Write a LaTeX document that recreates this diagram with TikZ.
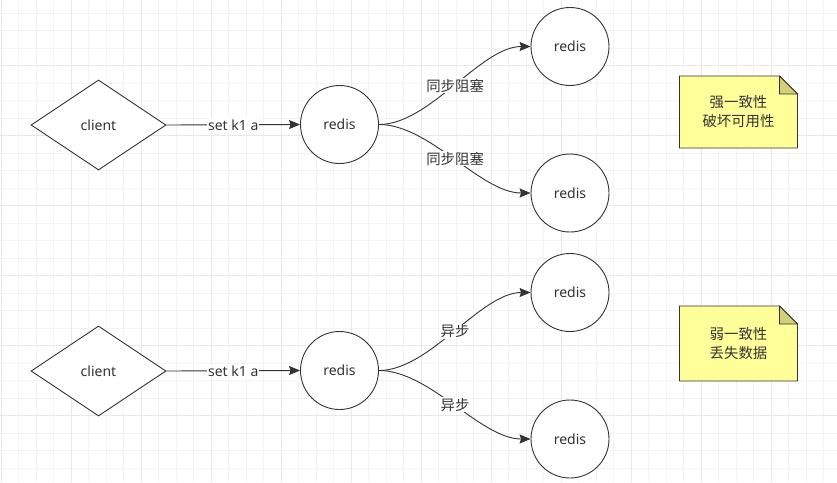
\documentclass[tikz,border=0pt]{standalone}
\usepackage{fontspec}
\setmainfont{Noto Sans}
\newfontfamily\cjk{Noto Sans CJK SC}
\usetikzlibrary{arrows.meta,shapes.geometric}
\definecolor{dioLine}{HTML}{333333}
\definecolor{dioGrid}{HTML}{F3F3F3}
\definecolor{dioGridMajor}{HTML}{E8E8E8}
\definecolor{dioNote}{HTML}{FFFF99}
\definecolor{dioFold}{HTML}{D4D07A}
\tikzset{
  >={Stealth[length=11pt,width=9pt,inset=1.5pt]},
  gridminor/.style={draw=dioGrid, line width=1pt},
  gridmajor/.style={draw=dioGridMajor, line width=1pt},
  client/.style={diamond, draw=dioLine, line width=0.9pt, fill=white,
              minimum width=135pt, minimum height=90pt, inner sep=0pt,
              text=dioLine, font=\fontsize{14}{17}\selectfont},
  redis/.style={circle, draw=dioLine, line width=0.9pt, fill=white,
              minimum size=78pt, inner sep=0pt,
              text=dioLine, font=\fontsize{14}{17}\selectfont},
  lbl/.style={fill=white, inner sep=1pt, text=dioLine,
              font=\fontsize{14}{17}\selectfont},
  cjklbl/.style={lbl, font=\cjk\fontsize{14.4}{17}\selectfont},
  notebody/.style={draw=dioLine, fill=dioNote, line width=0.9pt},
  notefold/.style={draw=dioLine, fill=dioFold, line width=0.9pt, line join=round},
  notetext/.style={align=center, text=dioLine, inner sep=0pt,
              font=\cjk\fontsize{14.4}{19}\selectfont},
  flow/.style={->, draw=dioLine, line width=0.9pt},
}

\begin{document}
\begin{tikzpicture}[x=1pt,y=-1pt]
    \useasboundingbox[fill=white] (0,0) rectangle (837,482);
    % grid
    \foreach \i in {0,...,47}
      \draw[gridminor] ({1+17.5*\i},0) -- ({1+17.5*\i},482);
    \foreach \i in {1,...,27}
      \draw[gridminor] (0,{-4.2+17.5*\i}) -- (837,{-4.2+17.5*\i});
    \foreach \i in {0,...,11}
      \draw[gridmajor] ({1+70*\i},0) -- ({1+70*\i},482);
    \foreach \i in {1,...,6}
      \draw[gridmajor] (0,{-4.2+70*\i}) -- (837,{-4.2+70*\i});
    % two rows: client -> redis -> two replicas, plus a note
    \foreach \r/\y/\lab/\ny/\nh/\na/\nb in
        {0/125/同步阻塞/112/72/强一致性/破坏可用性,
         1/371/异步/343.5/75/弱一致性/丢失数据}{
      \node[client] (c\r) at (98.5,\y) {client};
      \node[redis] (m\r) at (339.5,\y-0.5) {redis};
      \node[redis] (a\r) at (570,\y-78.5) {redis};
      \node[redis] (b\r) at (570,\y+68) {redis};
      \draw[flow] (c\r.east) -- node[lbl]{set k1 a} (m\r.west);
      \draw[flow] (m\r.east) .. controls +(51,0) and +(-50,0) .. node[cjklbl,pos=0.5]{\lab} (a\r.west);
      \draw[flow] (m\r.east) .. controls +(51,0) and +(-50,0) .. node[cjklbl,pos=0.5]{\lab} (b\r.west);
      % note
      \draw[notebody] (679.5,\ny-\nh/2) -- (779.5,\ny-\nh/2) -- (797.5,\ny-\nh/2+18)
        -- (797.5,\ny+\nh/2) -- (679.5,\ny+\nh/2) -- cycle;
      \draw[notefold] (779.5,\ny-\nh/2) -- (779.5,\ny-\nh/2+18) -- (797.5,\ny-\nh/2+18) -- cycle;
      \node[notetext] (n\r) at (738.5,\ny) {\na\\\nb};
    }
\end{tikzpicture}
\end{document}
